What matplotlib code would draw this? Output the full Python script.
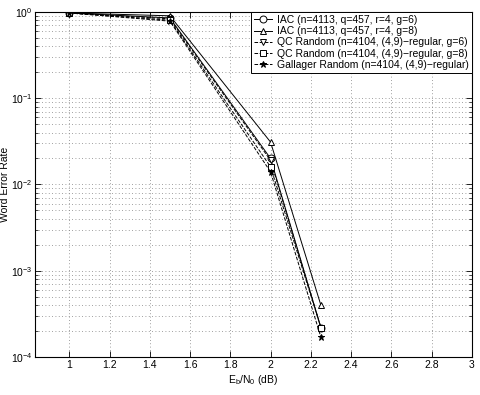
import numpy as np
import matplotlib
matplotlib.use("Agg")
from matplotlib import pyplot as plt
from matplotlib.ticker import LogLocator, LogFormatterMathtext, NullFormatter

plt.rcParams["font.family"] = ["Liberation Sans", "DejaVu Sans"]
plt.rcParams["mathtext.fontset"] = "custom"
plt.rcParams["mathtext.rm"] = "Liberation Sans"
plt.rcParams["mathtext.it"] = "Liberation Sans"

# Eb/N0 (dB)
snr = [1.0, 1.5, 2.0, 2.25]

iac_g6 = [0.97, 0.85, 0.020, 2.2e-4]
iac_g8 = [0.97, 0.90, 0.031, 4.0e-4]
qc_g6 = [0.97, 0.83, 0.019, 2.2e-4]
qc_g8 = [0.97, 0.80, 0.016, 2.2e-4]
gallager = [0.97, 0.78, 0.014, 1.7e-4]

labels = [
    "IAC (n=4113, q=457, r=4, g=6)",
    "IAC (n=4113, q=457, r=4, g=8)",
    "QC Random (n=4104, (4,9)\u2212regular, g=6)",
    "QC Random (n=4104, (4,9)\u2212regular, g=8)",
    "Gallager Random (n=4104, (4,9)\u2212regular)",
]

fig = plt.figure(figsize=(4.8, 3.95), dpi=100)
ax = fig.add_axes([0.073, 0.096, 0.910, 0.874])

ax.plot(snr, iac_g6, "-", color="black", lw=0.7, marker="o", ms=5, mfc="white", mew=0.7, label=labels[0])
ax.plot(snr, iac_g8, "-", color="black", lw=0.7, marker="^", ms=5, mfc="white", mew=0.7, label=labels[1])
ax.plot(snr, qc_g6, "--", color="black", lw=0.7, marker="v", ms=5, mfc="white", mew=0.7, label=labels[2])
ax.plot(snr, qc_g8, "--", color="black", lw=0.7, marker="s", ms=4.5, mfc="white", mew=0.7, label=labels[3])
ax.plot(snr, gallager, "--", color="black", lw=0.7, marker="*", ms=5, mfc="black", mew=0.7, label=labels[4])

ax.set_yscale("log")
ax.set_xlim(0.83, 3)
ax.set_ylim(1e-4, 1)
ax.set_xticks(np.arange(1, 3.01, 0.2))
ax.set_xticklabels(["1", "1.2", "1.4", "1.6", "1.8", "2", "2.2", "2.4", "2.6", "2.8", "3"])
ax.yaxis.set_major_locator(LogLocator(base=10))
ax.yaxis.set_major_formatter(LogFormatterMathtext())
ax.yaxis.set_minor_locator(LogLocator(base=10, subs=np.arange(2, 10)))
ax.yaxis.set_minor_formatter(NullFormatter())

ax.tick_params(which="both", direction="in", top=True, right=True, labelsize=7.5, pad=2)
ax.tick_params(which="major", length=4, width=0.6)
ax.tick_params(which="minor", length=2, width=0.5)
grid_style = dict(ls=(0, (1, 3)), color="#808080", lw=0.6)
ax.grid(True, which="major", **grid_style)
ax.grid(True, which="minor", axis="y", **grid_style)
for s in ax.spines.values():
    s.set_linewidth(0.8)

ax.set_xlabel("E$_{\\mathrm{b}}$/N$_{\\mathrm{0}}$ (dB)", fontsize=7.5, labelpad=2)
ax.set_ylabel("Word Error Rate", fontsize=7.5)
ax.yaxis.set_label_coords(-0.058, 0.5)

leg = ax.legend(loc="upper right", fontsize=7.5, fancybox=False, framealpha=1,
                edgecolor="black", borderaxespad=0, handlelength=1.7,
                labelspacing=0.12, borderpad=0.3, handletextpad=0.5)
leg.get_frame().set_linewidth(0.7)

fig.savefig("out.png", dpi=100)
